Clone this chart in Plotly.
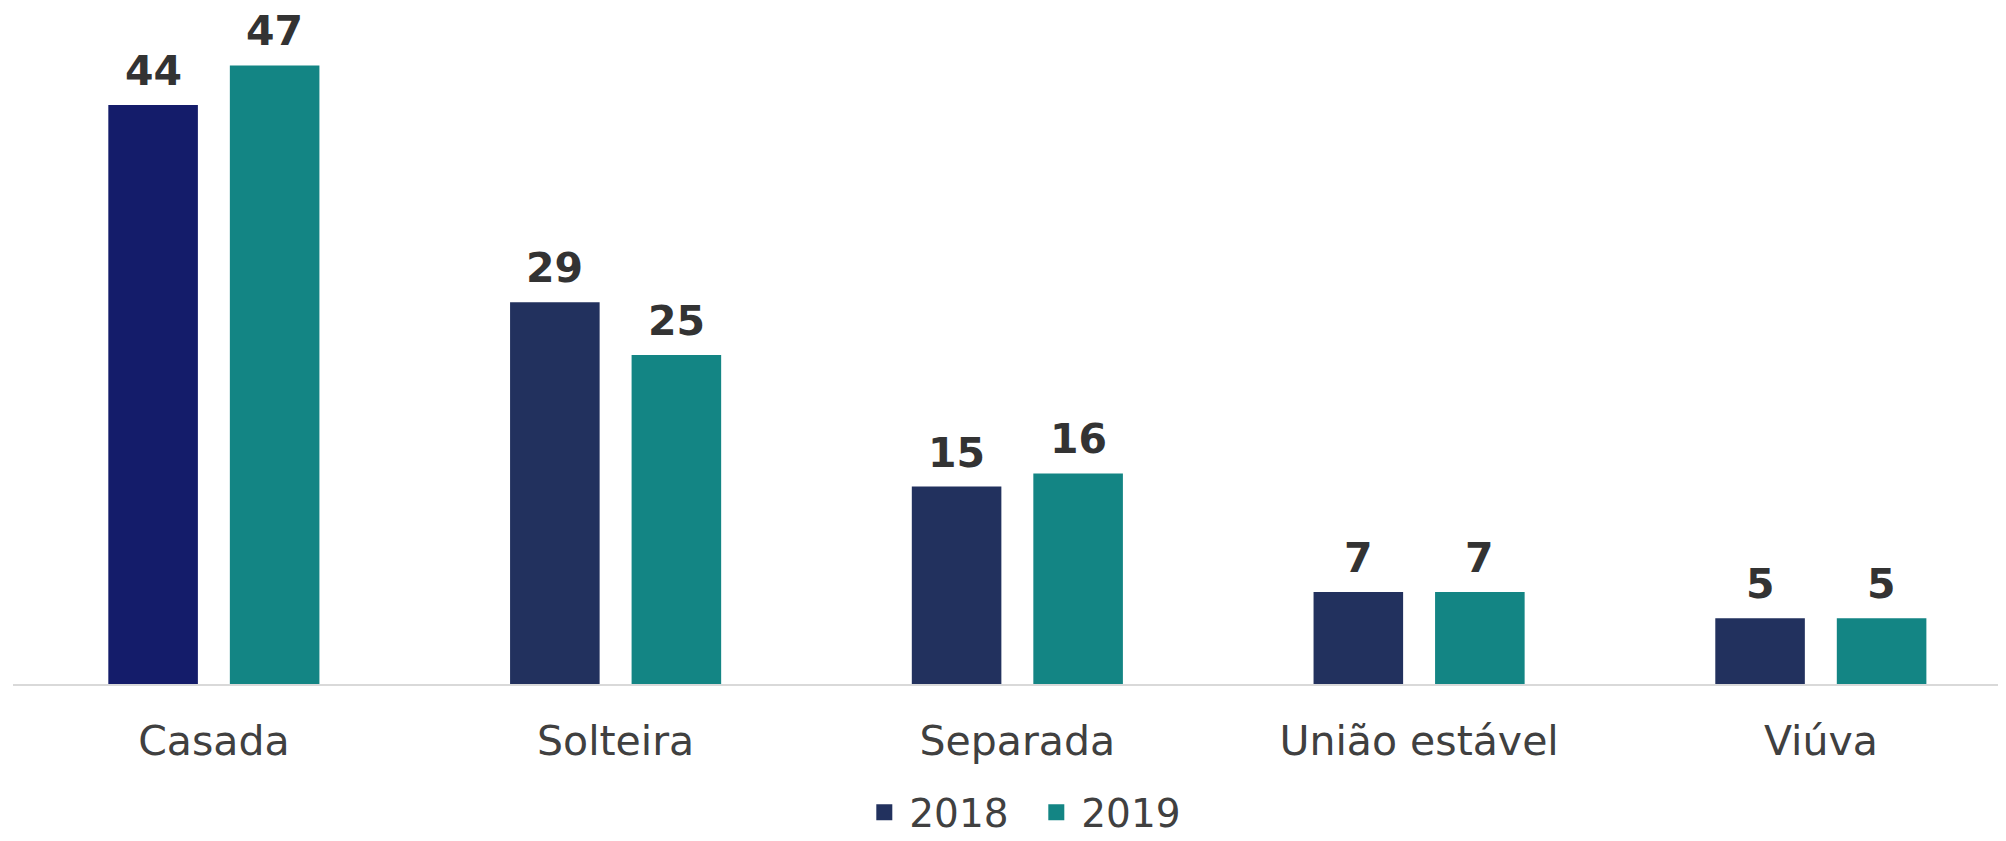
import plotly.graph_objects as go

categories = ["Casada", "Solteira", "Separada", "União estável", "Viúva"]
years = ["2018", "2019"]
values_2018 = [44, 29, 15, 7, 5]
values_2019 = [47, 25, 16, 7, 5]
colors_2018 = ["#141C6A", "#22315E", "#22315E", "#22315E", "#22315E"]
color_2019 = "#138584"
legend_2018 = "#22315E"

fig = go.Figure()
fig.add_trace(go.Bar(name=years[0], x=categories, y=values_2018,
                     offsetgroup="a",
                     marker=dict(color=colors_2018, line=dict(width=0)),
                     showlegend=False))
fig.add_trace(go.Bar(name=years[1], x=categories, y=values_2019,
                     offsetgroup="b",
                     marker=dict(color=color_2019, line=dict(width=0)),
                     showlegend=False))
# legend entries with larger square symbols
for name, col in ((years[0], legend_2018), (years[1], color_2019)):
    fig.add_trace(go.Scatter(name=name, x=[None], y=[None], mode="markers",
                             marker=dict(symbol="square", size=20, color=col),
                             showlegend=True))

slot_px = 60.75
for vals, sh in ((values_2018, -slot_px), (values_2019, slot_px)):
    for c, v in zip(categories, vals):
        fig.add_annotation(x=c, y=v, text=str(v), showarrow=False,
                           xref="x", yref="y", xshift=sh, yshift=9,
                           yanchor="bottom", borderpad=0,
                           font=dict(family="DejaVu Sans", size=41,
                                     color="#333333", weight="bold"))

fig.update_layout(
    width=1990, height=825,
    barmode="group", bargap=0.395, bargroupgap=0.263,
    margin=dict(l=5, r=0, t=18, b=149, autoexpand=False),
    plot_bgcolor="white", paper_bgcolor="white",
    font=dict(family="DejaVu Sans", color="#404040", size=39),
    xaxis=dict(range=[-0.5, 4.441], showline=True, linecolor="#D9D9D9",
               linewidth=2, ticks="", ticklabelstandoff=20, automargin=False,
               tickfont=dict(size=41, color="#404040")),
    yaxis=dict(range=[0, 50], visible=False, showgrid=False, zeroline=False),
    legend=dict(orientation="h", x=0.513, xanchor="center", y=-0.195,
                yanchor="middle", font=dict(size=39, color="#404040"),
                traceorder="normal", entrywidth=117, entrywidthmode="pixels",
                itemwidth=40),
)

fig.write_html("out.html")
